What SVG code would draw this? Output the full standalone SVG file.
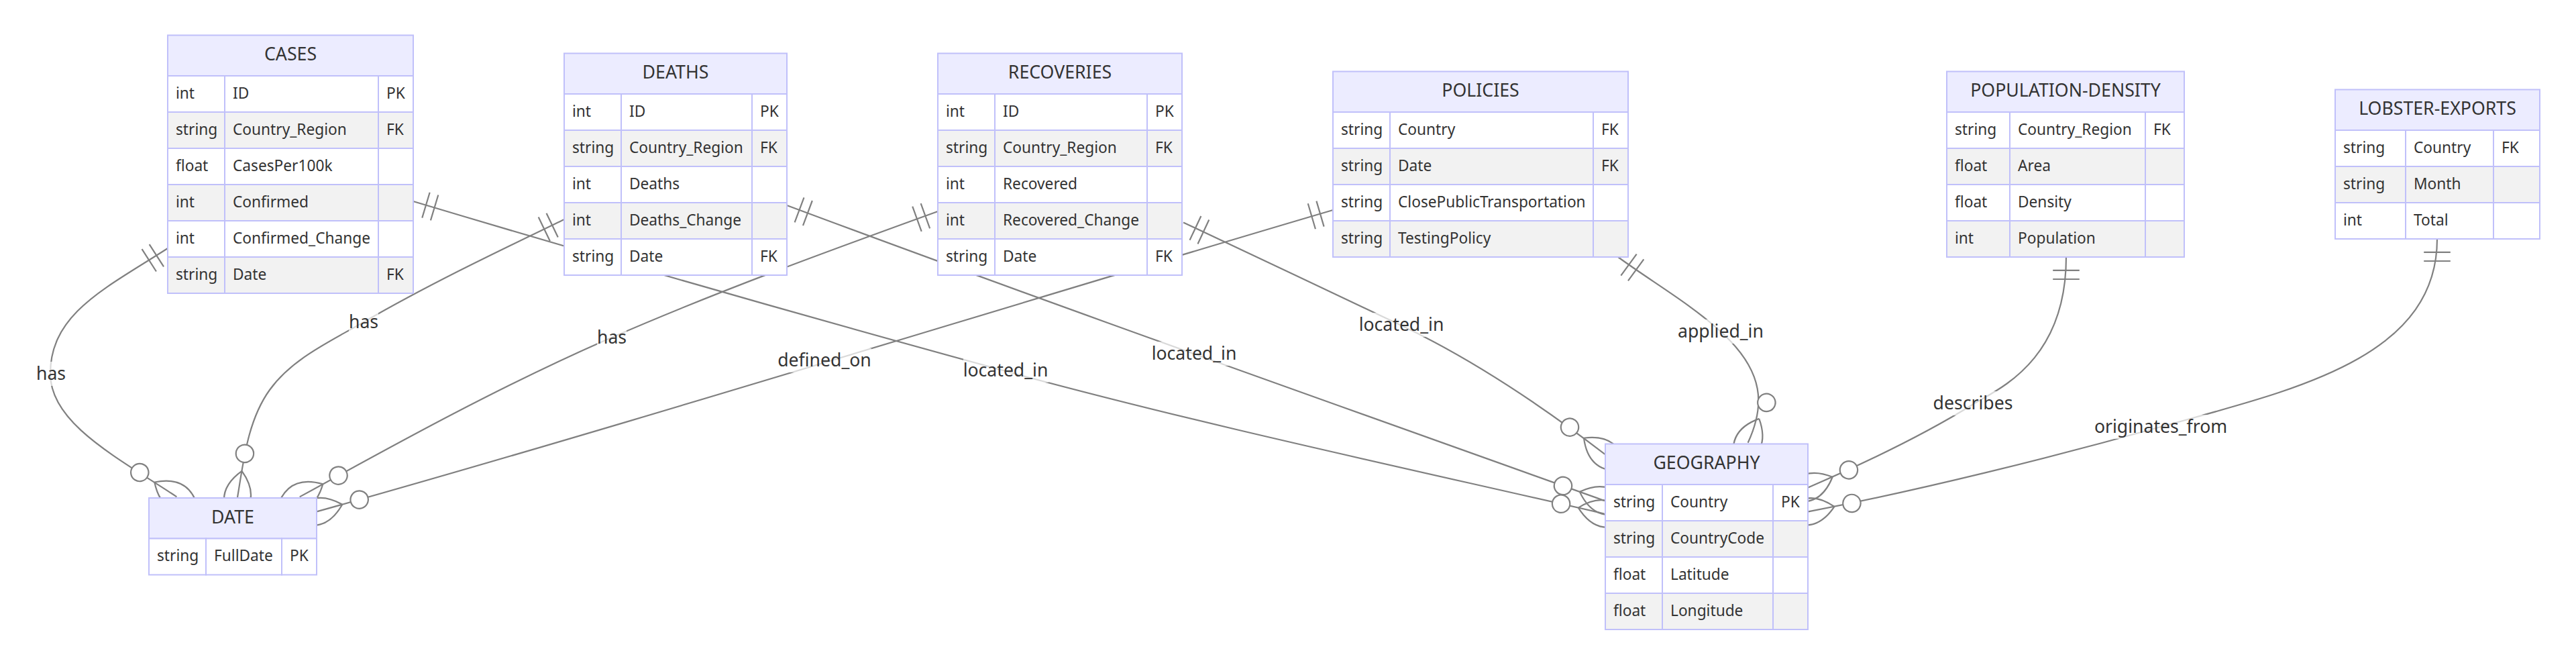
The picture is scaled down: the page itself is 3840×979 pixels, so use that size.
<svg xmlns="http://www.w3.org/2000/svg" width="3840" height="979" viewBox="0 0 3840 979">
<style>
.hdr{fill:#ECECFF;stroke:#C0C0FA;stroke-width:2}
.o{fill:#ffffff;stroke:#C0C0FA;stroke-width:2}
.e{fill:#f2f2f2;stroke:#C0C0FA;stroke-width:2}
.t{font-family:"Noto Sans","Open Sans",sans-serif;font-size:22.7px;fill:#333;dominant-baseline:central;transform:translateY(-2px)}
.h{font-family:"Noto Sans","Open Sans",sans-serif;font-size:26.7px;fill:#333;dominant-baseline:central;text-anchor:middle;transform:translateY(-3px)}
.lbl{font-family:"Noto Sans","Open Sans",sans-serif;font-size:26.6px;fill:#333;dominant-baseline:central;text-anchor:middle;transform:translateY(-1.5px)}
.edge{stroke:#808080;stroke-width:2.2;fill:none;marker-start:url(#oneStart);marker-end:url(#zeroManyEnd)}
.lb{fill:#ffffff;opacity:0.7}
</style>
<defs>
<marker id="oneStart" refX="0" refY="9" markerWidth="18" markerHeight="18" orient="auto" overflow="visible">
<path d="M9,0 L9,18 M15,0 L15,18" stroke="#808080" stroke-width="1" fill="none"/>
</marker>
<marker id="zeroManyEnd" refX="39" refY="18" markerWidth="57" markerHeight="36" orient="auto" overflow="visible">
<circle cx="9" cy="18" r="6" fill="#ffffff" stroke="#808080" stroke-width="1"/>
<path d="M21,18 Q39,0 57,18 Q39,36 21,18" fill="none" stroke="#808080" stroke-width="1"/>
</marker>
</defs>
<rect width="3840" height="979" fill="#ffffff"/>
<g id="connectors">
<path class="edge" d="M250,370 C157.6,429.4 75,467 75,557 C75,630 171.5,679.8 263.4,740.3"/>
<path class="edge" d="M841,327 C740.2,375.6 639,423.9 542,480 C492.2,508.8 435.6,534.4 402,581 C369.4,626.2 363.2,686.1 354,741"/>
<path class="edge" d="M1398,315 C1234.4,374.2 1071.6,433.4 911.6,503 C751.6,572.6 599.1,656.4 446.7,740.4"/>
<path class="edge" d="M1987,313 C1507.5,454 953.6,627.4 472.1,762.4"/>
<path class="edge" d="M616,300 C903.4,386.1 1209.6,473.9 1499,553 C1788.4,632.1 2099.2,698.3 2391.4,765.5"/>
<path class="edge" d="M1173,306 C1547.8,446 2015.7,611.4 2392.1,746.2"/>
<path class="edge" d="M1764,331.5 C1872.7,382.4 1980.6,433.5 2089,485 C2197.4,536.5 2297.1,603.8 2392.4,676.8"/>
<path class="edge" d="M2412,383 C2462.4,419.8 2518.4,451.7 2565,494 C2631.6,554.5 2630.8,605.4 2605.6,659.8"/>
<path class="edge" d="M3080,383 C3080,540 2976,580.9 2942,602 C2865.5,649.4 2778.1,690.8 2695.3,726.4"/>
<path class="edge" d="M3633,356 C3633,536 3413.6,582 3221,636 C3057.3,681.9 2862.5,730.4 2695.6,762.4"/>
<g id="edge-labels">
<rect class="lb" x="54" y="539" width="44" height="36"/><text class="lbl" x="76" y="557">has</text>
<rect class="lb" x="520" y="462" width="44" height="36"/><text class="lbl" x="542" y="480">has</text>
<rect class="lb" x="890" y="485" width="44" height="36"/><text class="lbl" x="912" y="503">has</text>
<rect class="lb" x="1160" y="519" width="139" height="36"/><text class="lbl" x="1229" y="537">defined_on</text>
<rect class="lb" x="1436" y="534" width="127" height="36"/><text class="lbl" x="1499" y="552">located_in</text>
<rect class="lb" x="1716" y="509" width="127" height="36"/><text class="lbl" x="1780" y="527">located_in</text>
<rect class="lb" x="2026" y="466" width="127" height="36"/><text class="lbl" x="2089" y="484">located_in</text>
<rect class="lb" x="2501" y="476" width="128" height="36"/><text class="lbl" x="2565" y="494">applied_in</text>
<rect class="lb" x="2882" y="583" width="119" height="36"/><text class="lbl" x="2941" y="601">describes</text>
<rect class="lb" x="3122" y="618" width="198" height="36"/><text class="lbl" x="3221" y="636">originates_from</text>
</g>
</g>
<g id="entity-CASES">
<rect class="hdr" x="250" y="52.5" width="366" height="60.5"/><text class="h" x="433" y="82.75">CASES</text>
<rect class="o" x="250" y="113" width="85" height="54"/><rect class="o" x="335" y="113" width="229" height="54"/><rect class="o" x="564" y="113" width="52" height="54"/>
<rect class="e" x="250" y="167" width="85" height="54"/><rect class="e" x="335" y="167" width="229" height="54"/><rect class="e" x="564" y="167" width="52" height="54"/>
<rect class="o" x="250" y="221" width="85" height="54"/><rect class="o" x="335" y="221" width="229" height="54"/><rect class="o" x="564" y="221" width="52" height="54"/>
<rect class="e" x="250" y="275" width="85" height="54"/><rect class="e" x="335" y="275" width="229" height="54"/><rect class="e" x="564" y="275" width="52" height="54"/>
<rect class="o" x="250" y="329" width="85" height="54"/><rect class="o" x="335" y="329" width="229" height="54"/><rect class="o" x="564" y="329" width="52" height="54"/>
<rect class="e" x="250" y="383" width="85" height="54"/><rect class="e" x="335" y="383" width="229" height="54"/><rect class="e" x="564" y="383" width="52" height="54"/>
<text class="t" x="262" y="140">int</text><text class="t" x="347" y="140">ID</text><text class="t" x="576" y="140">PK</text>
<text class="t" x="262" y="194">string</text><text class="t" x="347" y="194">Country_Region</text><text class="t" x="576" y="194">FK</text>
<text class="t" x="262" y="248">float</text><text class="t" x="347" y="248">CasesPer100k</text>
<text class="t" x="262" y="302">int</text><text class="t" x="347" y="302">Confirmed</text>
<text class="t" x="262" y="356">int</text><text class="t" x="347" y="356">Confirmed_Change</text>
<text class="t" x="262" y="410">string</text><text class="t" x="347" y="410">Date</text><text class="t" x="576" y="410">FK</text>
</g>
<g id="entity-DEATHS">
<rect class="hdr" x="841" y="79.5" width="332" height="60.5"/><text class="h" x="1007" y="109.75">DEATHS</text>
<rect class="o" x="841" y="140" width="85" height="54"/><rect class="o" x="926" y="140" width="195" height="54"/><rect class="o" x="1121" y="140" width="52" height="54"/>
<rect class="e" x="841" y="194" width="85" height="54"/><rect class="e" x="926" y="194" width="195" height="54"/><rect class="e" x="1121" y="194" width="52" height="54"/>
<rect class="o" x="841" y="248" width="85" height="54"/><rect class="o" x="926" y="248" width="195" height="54"/><rect class="o" x="1121" y="248" width="52" height="54"/>
<rect class="e" x="841" y="302" width="85" height="54"/><rect class="e" x="926" y="302" width="195" height="54"/><rect class="e" x="1121" y="302" width="52" height="54"/>
<rect class="o" x="841" y="356" width="85" height="54"/><rect class="o" x="926" y="356" width="195" height="54"/><rect class="o" x="1121" y="356" width="52" height="54"/>
<text class="t" x="853" y="167">int</text><text class="t" x="938" y="167">ID</text><text class="t" x="1133" y="167">PK</text>
<text class="t" x="853" y="221">string</text><text class="t" x="938" y="221">Country_Region</text><text class="t" x="1133" y="221">FK</text>
<text class="t" x="853" y="275">int</text><text class="t" x="938" y="275">Deaths</text>
<text class="t" x="853" y="329">int</text><text class="t" x="938" y="329">Deaths_Change</text>
<text class="t" x="853" y="383">string</text><text class="t" x="938" y="383">Date</text><text class="t" x="1133" y="383">FK</text>
</g>
<g id="entity-RECOVERIES">
<rect class="hdr" x="1398" y="79.5" width="364" height="60.5"/><text class="h" x="1580" y="109.75">RECOVERIES</text>
<rect class="o" x="1398" y="140" width="85" height="54"/><rect class="o" x="1483" y="140" width="227" height="54"/><rect class="o" x="1710" y="140" width="52" height="54"/>
<rect class="e" x="1398" y="194" width="85" height="54"/><rect class="e" x="1483" y="194" width="227" height="54"/><rect class="e" x="1710" y="194" width="52" height="54"/>
<rect class="o" x="1398" y="248" width="85" height="54"/><rect class="o" x="1483" y="248" width="227" height="54"/><rect class="o" x="1710" y="248" width="52" height="54"/>
<rect class="e" x="1398" y="302" width="85" height="54"/><rect class="e" x="1483" y="302" width="227" height="54"/><rect class="e" x="1710" y="302" width="52" height="54"/>
<rect class="o" x="1398" y="356" width="85" height="54"/><rect class="o" x="1483" y="356" width="227" height="54"/><rect class="o" x="1710" y="356" width="52" height="54"/>
<text class="t" x="1410" y="167">int</text><text class="t" x="1495" y="167">ID</text><text class="t" x="1722" y="167">PK</text>
<text class="t" x="1410" y="221">string</text><text class="t" x="1495" y="221">Country_Region</text><text class="t" x="1722" y="221">FK</text>
<text class="t" x="1410" y="275">int</text><text class="t" x="1495" y="275">Recovered</text>
<text class="t" x="1410" y="329">int</text><text class="t" x="1495" y="329">Recovered_Change</text>
<text class="t" x="1410" y="383">string</text><text class="t" x="1495" y="383">Date</text><text class="t" x="1722" y="383">FK</text>
</g>
<g id="entity-POLICIES">
<rect class="hdr" x="1987" y="106.5" width="440" height="60.5"/><text class="h" x="2207" y="136.75">POLICIES</text>
<rect class="o" x="1987" y="167" width="85" height="54"/><rect class="o" x="2072" y="167" width="303" height="54"/><rect class="o" x="2375" y="167" width="52" height="54"/>
<rect class="e" x="1987" y="221" width="85" height="54"/><rect class="e" x="2072" y="221" width="303" height="54"/><rect class="e" x="2375" y="221" width="52" height="54"/>
<rect class="o" x="1987" y="275" width="85" height="54"/><rect class="o" x="2072" y="275" width="303" height="54"/><rect class="o" x="2375" y="275" width="52" height="54"/>
<rect class="e" x="1987" y="329" width="85" height="54"/><rect class="e" x="2072" y="329" width="303" height="54"/><rect class="e" x="2375" y="329" width="52" height="54"/>
<text class="t" x="1999" y="194">string</text><text class="t" x="2084" y="194">Country</text><text class="t" x="2387" y="194">FK</text>
<text class="t" x="1999" y="248">string</text><text class="t" x="2084" y="248">Date</text><text class="t" x="2387" y="248">FK</text>
<text class="t" x="1999" y="302">string</text><text class="t" x="2084" y="302">ClosePublicTransportation</text>
<text class="t" x="1999" y="356">string</text><text class="t" x="2084" y="356">TestingPolicy</text>
</g>
<g id="entity-POPULATION-DENSITY">
<rect class="hdr" x="2902" y="106.5" width="354" height="60.5"/><text class="h" x="3079" y="136.75">POPULATION-DENSITY</text>
<rect class="o" x="2902" y="167" width="94" height="54"/><rect class="o" x="2996" y="167" width="202" height="54"/><rect class="o" x="3198" y="167" width="58" height="54"/>
<rect class="e" x="2902" y="221" width="94" height="54"/><rect class="e" x="2996" y="221" width="202" height="54"/><rect class="e" x="3198" y="221" width="58" height="54"/>
<rect class="o" x="2902" y="275" width="94" height="54"/><rect class="o" x="2996" y="275" width="202" height="54"/><rect class="o" x="3198" y="275" width="58" height="54"/>
<rect class="e" x="2902" y="329" width="94" height="54"/><rect class="e" x="2996" y="329" width="202" height="54"/><rect class="e" x="3198" y="329" width="58" height="54"/>
<text class="t" x="2914" y="194">string</text><text class="t" x="3008" y="194">Country_Region</text><text class="t" x="3210" y="194">FK</text>
<text class="t" x="2914" y="248">float</text><text class="t" x="3008" y="248">Area</text>
<text class="t" x="2914" y="302">float</text><text class="t" x="3008" y="302">Density</text>
<text class="t" x="2914" y="356">int</text><text class="t" x="3008" y="356">Population</text>
</g>
<g id="entity-LOBSTER-EXPORTS">
<rect class="hdr" x="3481" y="133.5" width="305" height="60.5"/><text class="h" x="3633.5" y="163.75">LOBSTER-EXPORTS</text>
<rect class="o" x="3481" y="194" width="105" height="54"/><rect class="o" x="3586" y="194" width="131" height="54"/><rect class="o" x="3717" y="194" width="69" height="54"/>
<rect class="e" x="3481" y="248" width="105" height="54"/><rect class="e" x="3586" y="248" width="131" height="54"/><rect class="e" x="3717" y="248" width="69" height="54"/>
<rect class="o" x="3481" y="302" width="105" height="54"/><rect class="o" x="3586" y="302" width="131" height="54"/><rect class="o" x="3717" y="302" width="69" height="54"/>
<text class="t" x="3493" y="221">string</text><text class="t" x="3598" y="221">Country</text><text class="t" x="3729" y="221">FK</text>
<text class="t" x="3493" y="275">string</text><text class="t" x="3598" y="275">Month</text>
<text class="t" x="3493" y="329">int</text><text class="t" x="3598" y="329">Total</text>
</g>
<g id="entity-DATE">
<rect class="hdr" x="222" y="742" width="250" height="60.5"/><text class="h" x="347" y="772.25">DATE</text>
<rect class="o" x="222" y="802.5" width="85" height="54"/><rect class="o" x="307" y="802.5" width="113" height="54"/><rect class="o" x="420" y="802.5" width="52" height="54"/>
<text class="t" x="234" y="829.5">string</text><text class="t" x="319" y="829.5">FullDate</text><text class="t" x="432" y="829.5">PK</text>
</g>
<g id="entity-GEOGRAPHY">
<rect class="hdr" x="2393" y="661.5" width="302" height="60.5"/><text class="h" x="2544" y="691.75">GEOGRAPHY</text>
<rect class="o" x="2393" y="722" width="85" height="54"/><rect class="o" x="2478" y="722" width="165" height="54"/><rect class="o" x="2643" y="722" width="52" height="54"/>
<rect class="e" x="2393" y="776" width="85" height="54"/><rect class="e" x="2478" y="776" width="165" height="54"/><rect class="e" x="2643" y="776" width="52" height="54"/>
<rect class="o" x="2393" y="830" width="85" height="54"/><rect class="o" x="2478" y="830" width="165" height="54"/><rect class="o" x="2643" y="830" width="52" height="54"/>
<rect class="e" x="2393" y="884" width="85" height="54"/><rect class="e" x="2478" y="884" width="165" height="54"/><rect class="e" x="2643" y="884" width="52" height="54"/>
<text class="t" x="2405" y="749">string</text><text class="t" x="2490" y="749">Country</text><text class="t" x="2655" y="749">PK</text>
<text class="t" x="2405" y="803">string</text><text class="t" x="2490" y="803">CountryCode</text>
<text class="t" x="2405" y="857">float</text><text class="t" x="2490" y="857">Latitude</text>
<text class="t" x="2405" y="911">float</text><text class="t" x="2490" y="911">Longitude</text>
</g>
</svg>
